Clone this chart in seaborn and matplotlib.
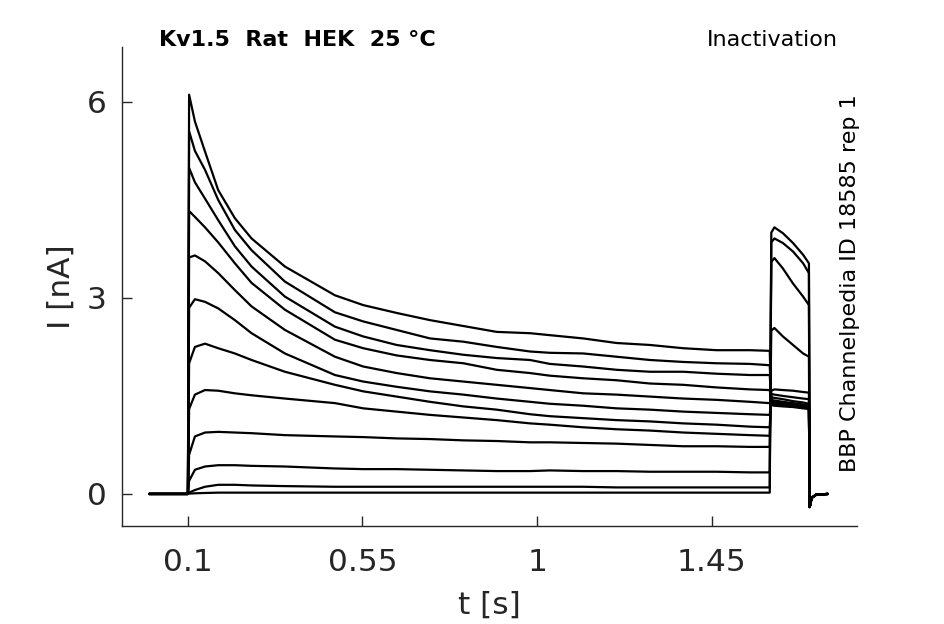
import numpy as np
import pandas as pd
import matplotlib
matplotlib.use("Agg")
import matplotlib.pyplot as plt
import seaborn as sns

# Sample times (s) for the conditioning pulse, the test pulse and the tail
t_pre = [0.0, 0.1, 0.103, 0.118, 0.144, 0.178, 0.221, 0.264, 0.35, 0.479,
         0.552, 0.638, 0.724, 0.81, 0.896, 0.982, 1.033, 1.119, 1.205,
         1.291, 1.377, 1.463, 1.549, 1.6]
t_test = [1.604, 1.612, 1.634, 1.66, 1.686, 1.701]
t_tail = [1.703, 1.708, 1.72, 1.75]

# Currents (nA), one list per sweep
pre_1 = [0, 0, 6.11, 5.70, 5.24, 4.65, 4.22, 3.91, 3.48, 3.04, 2.89, 2.77, 2.66, 2.57, 2.48, 2.46, 2.43, 2.38, 2.31, 2.28, 2.23, 2.20, 2.20, 2.19]
pre_2 = [0, 0, 5.55, 5.25, 4.96, 4.50, 4.04, 3.73, 3.25, 2.78, 2.64, 2.51, 2.38, 2.33, 2.25, 2.18, 2.16, 2.15, 2.10, 2.05, 2.02, 2.00, 1.99, 1.97]
pre_3 = [0, 0, 4.99, 4.77, 4.52, 4.19, 3.79, 3.48, 3.02, 2.56, 2.41, 2.28, 2.20, 2.13, 2.08, 2.05, 1.99, 1.95, 1.90, 1.87, 1.87, 1.84, 1.82, 1.82]
pre_4 = [0, 0, 4.33, 4.24, 4.08, 3.85, 3.53, 3.23, 2.82, 2.36, 2.23, 2.12, 2.05, 2.00, 1.90, 1.85, 1.81, 1.77, 1.74, 1.69, 1.67, 1.63, 1.60, 1.59]
pre_5 = [0, 0, 3.62, 3.65, 3.56, 3.38, 3.12, 2.87, 2.51, 2.10, 1.95, 1.85, 1.77, 1.72, 1.67, 1.62, 1.59, 1.54, 1.52, 1.49, 1.46, 1.44, 1.41, 1.39]
pre_6 = [0, 0, 2.85, 2.98, 2.94, 2.84, 2.66, 2.46, 2.15, 1.82, 1.72, 1.64, 1.57, 1.52, 1.46, 1.41, 1.38, 1.35, 1.31, 1.29, 1.26, 1.24, 1.22, 1.21]
pre_7 = [0, 0, 2.00, 2.25, 2.30, 2.23, 2.15, 2.05, 1.87, 1.67, 1.57, 1.49, 1.41, 1.34, 1.29, 1.22, 1.19, 1.16, 1.13, 1.11, 1.08, 1.06, 1.03, 1.02]
pre_8 = [0, 0, 1.30, 1.52, 1.59, 1.58, 1.54, 1.51, 1.46, 1.39, 1.31, 1.26, 1.21, 1.17, 1.13, 1.08, 1.06, 1.02, 0.99, 0.97, 0.94, 0.92, 0.90, 0.89]
pre_9 = [0, 0, 0.60, 0.88, 0.94, 0.95, 0.94, 0.93, 0.90, 0.88, 0.87, 0.85, 0.84, 0.82, 0.81, 0.79, 0.79, 0.78, 0.77, 0.75, 0.73, 0.73, 0.72, 0.72]
pre_10 = [0, 0, 0.20, 0.37, 0.42, 0.44, 0.44, 0.43, 0.42, 0.39, 0.38, 0.38, 0.37, 0.36, 0.35, 0.35, 0.36, 0.35, 0.35, 0.34, 0.34, 0.34, 0.33, 0.33]
pre_11 = [0, 0, 0.02, 0.06, 0.11, 0.14, 0.14, 0.13, 0.12, 0.11, 0.11, 0.11, 0.11, 0.11, 0.11, 0.11, 0.11, 0.11, 0.10, 0.10, 0.10, 0.10, 0.10, 0.10]
pre_12 = [0, 0, 0.005, 0.01, 0.015, 0.02, 0.02, 0.02, 0.02, 0.02, 0.02, 0.02, 0.02, 0.02, 0.02, 0.02, 0.02, 0.02, 0.02, 0.02, 0.02, 0.02, 0.02, 0.02]

test_1 = [1.36, 1.35, 1.34, 1.33, 1.31, 1.30]
test_2 = [1.38, 1.37, 1.35, 1.34, 1.32, 1.31]
test_3 = [1.40, 1.39, 1.37, 1.36, 1.34, 1.32]
test_4 = [1.42, 1.41, 1.39, 1.37, 1.35, 1.33]
test_5 = [1.44, 1.43, 1.41, 1.39, 1.37, 1.35]
test_6 = [1.48, 1.47, 1.45, 1.42, 1.40, 1.38]
test_7 = [1.53, 1.52, 1.50, 1.48, 1.46, 1.45]
test_8 = [1.58, 1.60, 1.59, 1.58, 1.56, 1.55]
test_9 = [2.50, 2.54, 2.41, 2.28, 2.15, 2.10]
test_10 = [3.55, 3.61, 3.45, 3.22, 3.02, 2.89]
test_11 = [3.85, 3.91, 3.84, 3.71, 3.53, 3.38]
test_12 = [4.00, 4.08, 3.99, 3.84, 3.66, 3.53]

tail = [-0.20, -0.06, -0.01, 0.0]

x_ticks = [0.1, 0.55, 1, 1.45]
x_tick_labels = ["0.1", "0.55", "1", "1.45"]
y_ticks = [0, 3, 6]

title_left = "Kv1.5  Rat  HEK  25 °C"
title_right = "Inactivation"
side_text = "BBP Channelpedia ID 18585 rep 1"


def main():
    pre = [pre_1, pre_2, pre_3, pre_4, pre_5, pre_6, pre_7, pre_8, pre_9, pre_10, pre_11, pre_12]
    test = [test_1, test_2, test_3, test_4, test_5, test_6, test_7, test_8, test_9, test_10, test_11, test_12]

    rows = []
    for i, (p, q) in enumerate(zip(pre, test)):
        times = t_pre + t_test + t_tail
        vals = p + q + tail
        for t, v in zip(times, vals):
            rows.append({"sweep": i, "t": t, "I": v})
    df = pd.DataFrame(rows)

    sns.set_style("ticks", {"xtick.direction": "in", "ytick.direction": "in"})
    plt.rcParams["font.family"] = ["DejaVu Sans"]

    fig = plt.figure(figsize=(9.45, 6.24), dpi=100)
    ax = fig.add_axes([0.1291, 0.1571, 0.7778, 0.7676])

    sns.lineplot(data=df, x="t", y="I", units="sweep", estimator=None,
                 sort=False, color="black", linewidth=1.6, ax=ax)

    ax.set_xlim(-0.07, 1.825)
    ax.set_ylim(-0.49, 6.84)
    ax.set_xticks(x_ticks)
    ax.set_xticklabels(x_tick_labels)
    ax.set_yticks(y_ticks)
    ax.tick_params(axis="both", labelsize=22.5, length=7, width=1,
                   colors="#262626", labelcolor="#262626")
    ax.tick_params(axis="x", pad=16)
    ax.tick_params(axis="y", pad=11)
    ax.set_xlabel("t [s]", fontsize=22.5, color="#262626", labelpad=10)
    ax.set_ylabel("I [nA]", fontsize=22.5, color="#262626", labelpad=8)
    sns.despine(ax=ax)
    for s in ["left", "bottom"]:
        ax.spines[s].set_color("#262626")
        ax.spines[s].set_linewidth(1)

    fig.text(159 / 945, 1 - 40 / 624, title_left, fontsize=16, fontweight="bold",
             ha="left", va="center", color="black")
    fig.text(838 / 945, 1 - 40 / 624, title_right, fontsize=16,
             ha="right", va="center", color="black")
    fig.text(850 / 945, 1 - 283 / 624, side_text, fontsize=16, rotation=90,
             ha="center", va="center", color="black")

    fig.savefig("out.png", dpi=100)


if __name__ == "__main__":
    main()
